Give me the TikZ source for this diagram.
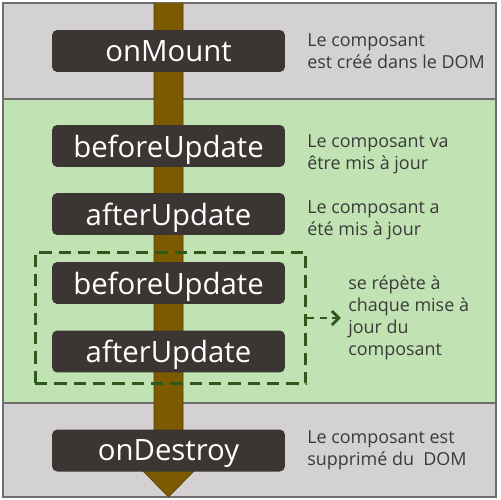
\documentclass[tikz,border=0pt]{standalone}
\usepackage{fontspec}
\setmainfont{Open Sans}
\usepackage{xcolor}
\usetikzlibrary{positioning}
\usetikzlibrary{arrows, shapes, fit, arrows.meta}
\definecolor{bandgray}{RGB}{211,209,209}
\definecolor{bandgreen}{RGB}{193,227,180}
\definecolor{framegray}{RGB}{110,110,110}
\definecolor{hookdark}{RGB}{59,54,52}
\definecolor{stembrown}{RGB}{123,90,0}
\definecolor{loopgreen}{RGB}{45,90,27}
\definecolor{notegray}{RGB}{58,58,58}
\tikzstyle{band} = [draw=framegray, line width=1.2pt]
\tikzstyle{hook} = [rectangle, rounded corners=3pt, fill=hookdark, text=white, minimum width=4.66cm, minimum height=0.84cm, text depth=0pt, font=\fontsize{16.7}{16.7}\selectfont]
\tikzstyle{note} = [anchor=west, align=left, inner sep=0pt, text=notegray, font=\fontsize{10.2}{12.5}\selectfont]
\tikzstyle{loopbox} = [rectangle, draw=loopgreen, line width=1.7pt, dash pattern=on 7pt off 4pt, minimum width=5.42cm, minimum height=2.64cm]
\tikzstyle{arrow} = [loopgreen, line width=1.7pt, dash pattern=on 4pt off 3pt, -{Straight Barb[length=4pt,width=8pt]}]

\begin{document}
\begin{tikzpicture}[x=0.02cm, y=-0.02cm]
      \useasboundingbox (0,0) rectangle (500,500);
      %%%%%%%%%%%%%%%%%%%%%%%%%%%%%%%%%%%%%%%
      \fill[bandgray] (3,3) rectangle (496,99);
      \fill[bandgreen] (3,99) rectangle (496,403);
      \fill[bandgray] (3,403) rectangle (496,497);
      \draw[band] (3,99)--(496,99);
      \draw[band] (3,403)--(496,403);
      \draw[band] (3,3) rectangle (496,497);
      % the stem
      \draw[fill=stembrown, draw=stembrown!70!black, line width=0.4pt] (154,3)--(154,471)--(143,471)--(168.5,497)--(194,471)--(183,471)--(183,3);
      %%%%%%%%%%%%%%%%%%%%%%%%%%%%%%%%%%%%%%%
      \draw (168.5,51) node (mount) [hook] {onMount};
      \draw (168.5,146) node (bu1) [hook] {beforeUpdate};
      \draw (168.5,214) node (au1) [hook] {afterUpdate};
      \draw (168.5,283) node (bu2) [hook] {beforeUpdate};
      \draw (168.5,351.5) node (au2) [hook] {afterUpdate};
      \draw (168.5,450.5) node (destroy) [hook] {onDestroy};
      \draw (170.5,318) node (loop) [loopbox] {};
      %%%%%%%%%%%%%%%%%%%%%%%%%%%%%%%%%%%%%%%
      \draw (307,51) node (nmount) [note] {Le composant\\est créé dans le DOM};
      \draw (307,154) node (nbu) [note] {Le composant va\\être mis à jour};
      \draw (307,220) node (nau) [note] {Le composant a\\été mis à jour};
      \draw (348,318) node (nloop) [note] {se répète à\\chaque mise à\\jour du\\composant};
      \draw (307,450.5) node (ndestroy) [note] {Le composant est\\supprimé du~ DOM};
      \draw[arrow] (loop.east)--([xshift=-4pt]nloop.west);
\end{tikzpicture}
\end{document}
